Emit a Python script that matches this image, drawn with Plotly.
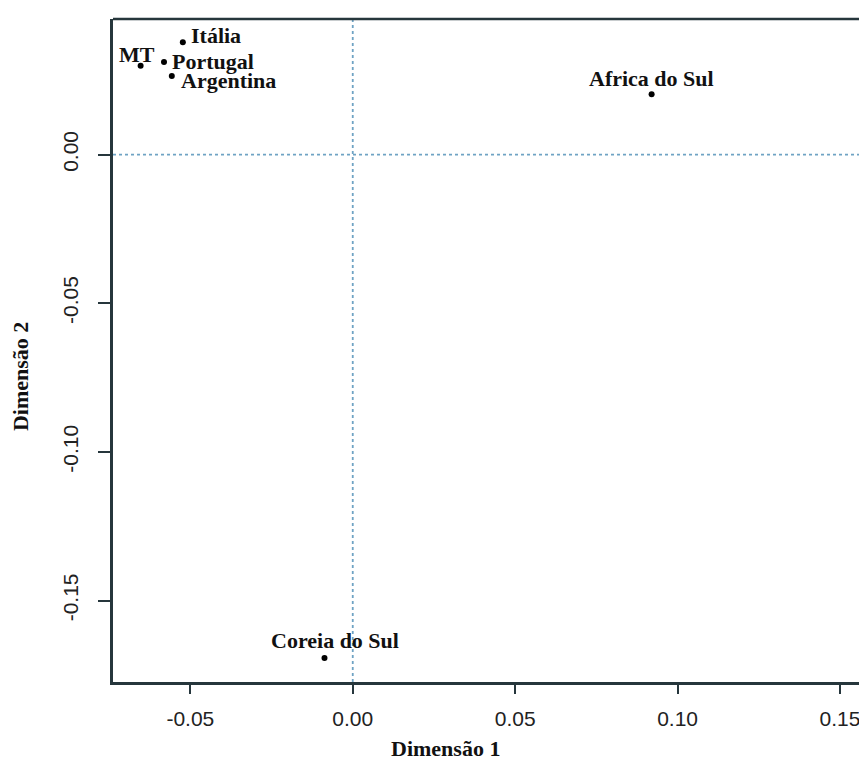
import plotly.graph_objects as go

# Data
labels = ["MT", "Itália", "Portugal", "Argentina", "Africa do Sul", "Coreia do Sul"]
dim1 = [-0.0653, -0.0523, -0.0581, -0.0557, 0.0920, -0.0087]
dim2 = [0.0299, 0.0378, 0.0311, 0.0264, 0.0203, -0.1693]

x_ticks = [-0.05, 0.00, 0.05, 0.10, 0.15]
x_ticktext = ["-0.05", "0.00", "0.05", "0.10", "0.15"]
y_ticks = [0.00, -0.05, -0.10, -0.15]
y_ticktext = ["0.00", "-0.05", "-0.10", "-0.15"]

# label placement (anchor, shifts in px)
label_style = {
    "MT": dict(xanchor="center", yanchor="middle", xshift=-4, yshift=11),
    "Itália": dict(xanchor="left", yanchor="middle", xshift=6, yshift=7),
    "Portugal": dict(xanchor="left", yanchor="middle", xshift=6, yshift=1),
    "Argentina": dict(xanchor="left", yanchor="middle", xshift=7, yshift=-4),
    "Africa do Sul": dict(xanchor="center", yanchor="middle", xshift=0, yshift=16),
    "Coreia do Sul": dict(xanchor="center", yanchor="middle", xshift=11, yshift=17),
}

serif = "Liberation Serif"
sans = "Liberation Sans"
axis_col = "#26363c"
guide_col = "#6fa3c4"

fig = go.Figure()
fig.add_trace(go.Scatter(
    x=dim1, y=dim2, mode="markers",
    marker=dict(color="black", size=6),
    hoverinfo="text", text=labels, showlegend=False,
))

for lab, xv, yv in zip(labels, dim1, dim2):
    st = label_style[lab]
    fig.add_annotation(x=xv, y=yv, xref="x", yref="y", text="<b>%s</b>" % lab,
                       showarrow=False, font=dict(family=serif, size=22, color="#111"),
                       **st)

# zero guide lines
fig.add_hline(y=0, line=dict(color=guide_col, width=1.8, dash="dot"))
fig.add_vline(x=0, line=dict(color=guide_col, width=1.8, dash="dot"))

# top border (right side is cropped in the reference)
fig.add_shape(type="line", xref="paper", yref="paper", x0=0, x1=1, y0=1, y1=1,
              line=dict(color=axis_col, width=2.5))

fig.update_xaxes(
    range=[-0.0738, 0.1583], tickmode="array", tickvals=x_ticks, ticktext=x_ticktext,
    showgrid=False, zeroline=False, showline=True, linecolor=axis_col, linewidth=2.5,
    ticks="outside", ticklen=9, tickwidth=2, tickcolor=axis_col,
    tickfont=dict(family=sans, size=21, color="#222"), ticklabelstandoff=7,
)
fig.update_yaxes(
    range=[-0.1774, 0.0456], tickmode="array", tickvals=y_ticks, ticktext=y_ticktext,
    showgrid=False, zeroline=False, showline=True, linecolor=axis_col, linewidth=2.5,
    ticks="outside", ticklen=12, tickwidth=2, tickcolor=axis_col, tickangle=-90,
    tickfont=dict(family=sans, size=21, color="#222"), ticklabelstandoff=12,
)

fig.add_annotation(text="<b>Dimensão 1</b>", xref="paper", yref="paper", x=0.4416, y=0,
                   yshift=-66, xanchor="center", yanchor="middle", showarrow=False,
                   font=dict(family=serif, size=22, color="#111"))
fig.add_annotation(text="<b>Dimensão 2</b>", xref="paper", yref="paper", x=0, y=0.46,
                   xshift=-93, xanchor="center", yanchor="middle", textangle=-90,
                   showarrow=False, font=dict(family=serif, size=22, color="#111"))

# page body has an 8px margin: size the figure so the plot lands where the reference has it
fig.update_layout(
    width=859, height=754,
    margin=dict(l=105, r=0, t=11, b=80),
    paper_bgcolor="white", plot_bgcolor="white",
)

fig.write_html("out.html")
